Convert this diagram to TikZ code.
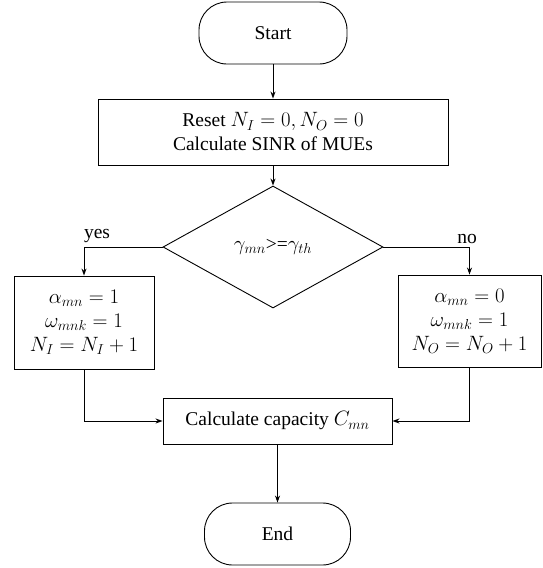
\documentclass[tikz,border=0pt]{standalone}
\usepackage{fontspec}
\setmainfont{Liberation Serif}
\usetikzlibrary{shapes.geometric,arrows.meta}
\begin{document}
\begin{tikzpicture}[x=1pt,y=-1pt,
  every node/.style={font=\fontsize{19.5}{24}\selectfont},
  box/.style={draw,line width=0.9pt,inner sep=0pt,align=center},
  term/.style={box,rounded corners=28pt},
  dec/.style={draw,line width=0.9pt,diamond,inner sep=0pt,aspect=1.8033,minimum width=220pt,minimum height=122pt},
  arr/.style={draw,line width=0.9pt,-{Stealth[length=7pt,width=5pt]}},
  lbl/.style={inner sep=0pt}]
\useasboundingbox (0,0) rectangle (542,568);
\node[term,minimum width=148pt,minimum height=62pt] (start) at (273,33) {Start};
\node[box,minimum width=350pt,minimum height=66pt] (init) at (273,132)
  {Reset $N_I=0, N_O=0$\\Calculate SINR of MUEs};
\node[dec] (dia) at (273,247) {$\gamma_{mn}$>=$\gamma_{th}$};
\node[box,minimum width=140pt,minimum height=93pt] (left) at (84,322.5)
  {$\alpha_{mn}=1$\\$\omega_{mnk}=1$\\$N_I=N_I+1$};
\node[box,minimum width=143pt,minimum height=92pt] (right) at (469.5,321)
  {$\alpha_{mn}=0$\\$\omega_{mnk}=1$\\$N_O=N_O+1$};
\node[box,minimum width=229pt,minimum height=46pt] (cap) at (277.5,421)
  {Calculate capacity $C_{mn}$};
\node[term,minimum width=146pt,minimum height=62pt] (end) at (277.5,534) {End};
\node[lbl] (yes) at (97,236) {yes};
\node[lbl] (no) at (467,239) {no};
\draw[arr] (start) -- (init.north -| start);
\draw[arr] (init.south -| dia) -- (dia.north);
\draw[arr] (dia.west) -| (left.north);
\draw[arr] (dia.east) -| (right.north);
\draw[arr] (left.south) |- (cap.west);
\draw[arr] (right.south) |- (cap.east);
\draw[arr] (cap) -- (end);
\end{tikzpicture}
\end{document}
